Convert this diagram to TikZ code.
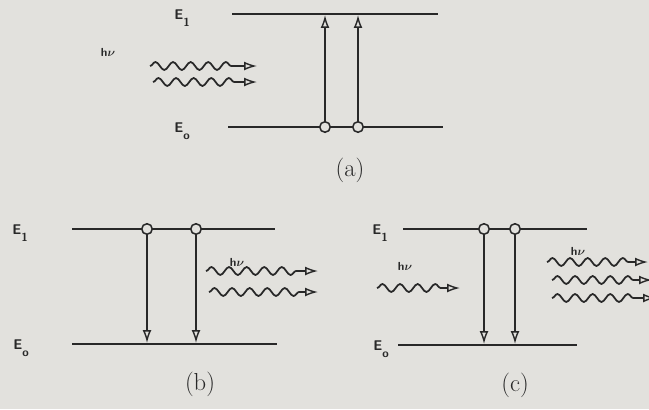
\documentclass[tikz,border=0pt]{standalone}
\usepackage{amsmath,amssymb}
\usetikzlibrary{arrows.meta,decorations.pathmorphing}
\definecolor{paper}{RGB}{226,225,221}
\definecolor{ink}{RGB}{40,40,40}

\begin{document}
\begin{tikzpicture}[x=0.03cm,y=-0.03cm,>={Latex[open,length=11pt,width=7.5pt,line width=1.2pt]},
  every node/.style={text=ink},
  lvl/.style={draw=ink,line width=1.6pt},
  atom/.style={circle,draw=ink,fill=paper,line width=1.3pt,inner sep=0pt,minimum size=9pt},
  jump/.style={draw=ink,line width=1.6pt,->},
  photon/.style={draw=ink,line width=1.5pt,->,decorate,decoration={snake,segment length=15pt,amplitude=3.4pt,post length=15pt}},
  elabel/.style={font=\sffamily\bfseries\large},
  hnu/.style={font=\sffamily\bfseries\normalsize},
  panel/.style={font=\fontsize{21}{23}\selectfont}]
\fill[paper] (0,0) rectangle (649,409);
\useasboundingbox (0,0) rectangle (649,409);

% (a) absorption
\coordinate (a1L) at (232,14);
\coordinate (a1R) at (438,14);
\coordinate (a0L) at (228,127);
\coordinate (a0R) at (443,127);
\draw[lvl] (a1L) -- (a1R);
\draw[lvl] (a0L) -- (a0R);
\coordinate (a1x) at (325,15);
\coordinate (a1y) at (358,15);
\node[atom] (a0x) at (325,127) {};
\node[atom] (a0y) at (358,127) {};
\draw[jump] (a0x) -- (a1x);
\draw[jump] (a0y) -- (a1y);
\node[elabel] (aE1) at (182,18) {E\raisebox{-1ex}{\normalsize 1}};
\node[elabel] (aE0) at (182,131) {E\raisebox{-1ex}{\normalsize o}};
\node[hnu] (ahv) at (108,52) {h$\boldsymbol{\nu}$};
\coordinate (aw1s) at (150,66);
\coordinate (aw1e) at (257,66);
\coordinate (aw2s) at (153,82);
\coordinate (aw2e) at (257,82);
\draw[photon] (aw1s) -- (aw1e);
\draw[photon] (aw2s) -- (aw2e);
\node[panel] (acap) at (350,170) {(a)};

% (b) spontaneous emission
\coordinate (b1L) at (72,229);
\coordinate (b1R) at (275,229);
\coordinate (b0L) at (72,344);
\coordinate (b0R) at (277,344);
\draw[lvl] (b1L) -- (b1R);
\draw[lvl] (b0L) -- (b0R);
\node[atom] (b1x) at (147,229) {};
\node[atom] (b1y) at (196,229) {};
\coordinate (b0x) at (147,343);
\coordinate (b0y) at (196,343);
\draw[jump] (b1x) -- (b0x);
\draw[jump] (b1y) -- (b0y);
\node[elabel] (bE1) at (20,233) {E\raisebox{-1ex}{\normalsize 1}};
\node[elabel] (bE0) at (21,348) {E\raisebox{-1ex}{\normalsize o}};
\node[hnu] (bhv) at (237,262) {h$\boldsymbol{\nu}$};
\coordinate (bw1s) at (206,271);
\coordinate (bw1e) at (318,271);
\coordinate (bw2s) at (209,292);
\coordinate (bw2e) at (318,292);
\draw[photon] (bw1s) -- (bw1e);
\draw[photon] (bw2s) -- (bw2e);
\node[panel] (bcap) at (200,384) {(b)};

% (c) stimulated emission
\coordinate (c1L) at (403,229);
\coordinate (c1R) at (587,229);
\coordinate (c0L) at (398,345);
\coordinate (c0R) at (577,345);
\draw[lvl] (c1L) -- (c1R);
\draw[lvl] (c0L) -- (c0R);
\node[atom] (c1x) at (484,229) {};
\node[atom] (c1y) at (515,229) {};
\coordinate (c0x) at (484,344);
\coordinate (c0y) at (515,344);
\draw[jump] (c1x) -- (c0x);
\draw[jump] (c1y) -- (c0y);
\node[elabel] (cE1) at (380,233) {E\raisebox{-1ex}{\normalsize 1}};
\node[elabel] (cE0) at (381,349) {E\raisebox{-1ex}{\normalsize o}};
\node[hnu] (chvin) at (405,266) {h$\boldsymbol{\nu}$};
\coordinate (cwis) at (377,288);
\coordinate (cwie) at (460,288);
\draw[photon] (cwis) -- (cwie);
\node[hnu] (chvout) at (578,251) {h$\boldsymbol{\nu}$};
\coordinate (cw1s) at (547,262);
\coordinate (cw1e) at (648,262);
\coordinate (cw2s) at (552,280);
\coordinate (cw2e) at (652,280);
\coordinate (cw3s) at (552,298);
\coordinate (cw3e) at (656,298);
\draw[photon] (cw1s) -- (cw1e);
\draw[photon] (cw2s) -- (cw2e);
\draw[photon] (cw3s) -- (cw3e);
\node[panel] (ccap) at (515,385) {(c)};
\end{tikzpicture}
\end{document}
